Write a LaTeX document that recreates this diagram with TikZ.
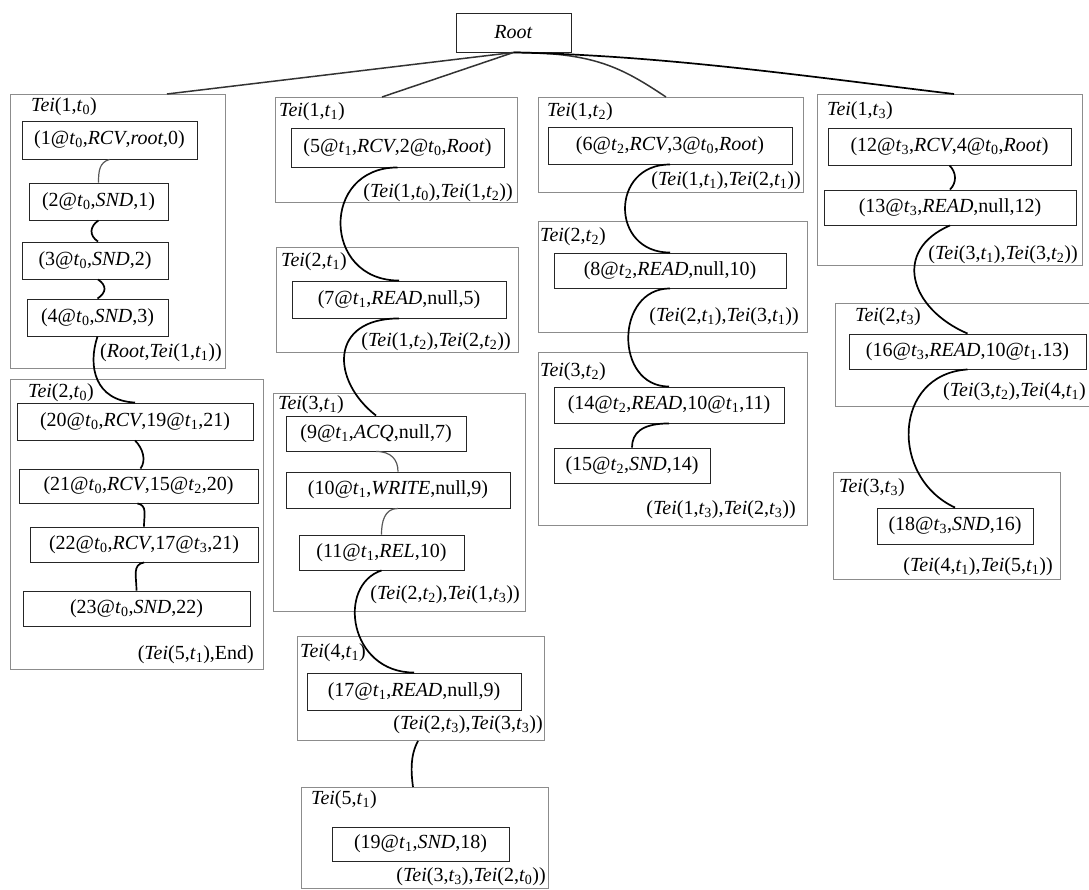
\documentclass[tikz,border=0pt]{standalone}
\usepackage{fontspec}
\setmainfont{Liberation Serif}
\newcommand\Tei{\textit{Tei}}
\newcommand\tvar[1]{\textit{t}\textsubscript{#1}}
\tikzset{
  grp/.style={draw=black!45, line width=0.9pt, inner sep=0pt, anchor=north west},
  ev/.style={draw=black!85, line width=0.9pt, inner sep=0pt},
  ttl/.style={anchor=west, inner sep=1pt},
  lbl/.style={anchor=east, inner sep=1pt},
  link/.style={line width=1.7pt},
  thin link/.style={line width=1.2pt, black!65},
  stem/.style={line width=1.5pt, black!80}
}
\begin{document}
\begin{tikzpicture}[x=1pt, y=-1pt, font=\fontsize{20}{24}\selectfont]
  \useasboundingbox (0,0) rectangle (1089,889);
  \node[ev, minimum width=115, minimum height=39] (root) at (513.5,32.5) {\textit{Root}};

  \node[grp, minimum width=215, minimum height=274] (g10) at (10,94) {};
  \node[grp, minimum width=253, minimum height=290] (g20) at (10,379) {};
  \node[grp, minimum width=242, minimum height=105] (g11) at (275,97) {};
  \node[grp, minimum width=242, minimum height=105] (g21) at (276,247) {};
  \node[grp, minimum width=252, minimum height=218] (g31) at (273,393) {};
  \node[grp, minimum width=247, minimum height=104] (g41) at (297,636) {};
  \node[grp, minimum width=247, minimum height=101] (g51) at (301,787) {};
  \node[grp, minimum width=265, minimum height=95] (g12) at (538,97) {};
  \node[grp, minimum width=269, minimum height=111] (g22) at (538,221) {};
  \node[grp, minimum width=269, minimum height=173] (g32) at (538,352) {};
  \node[grp, minimum width=265, minimum height=171] (g13) at (817,94) {};
  \node[grp, minimum width=260, minimum height=103] (g23) at (835,303) {};
  \node[grp, minimum width=227, minimum height=107] (g33) at (833,472) {};

  \node[ttl] (t10) at (30,107) {\Tei(1,\tvar{0})};
  \node[ttl] (t20) at (27,393) {\Tei(2,\tvar{0})};
  \node[ttl] (t11) at (278,112) {\Tei(1,\tvar{1})};
  \node[ttl] (t21) at (280,262) {\Tei(2,\tvar{1})};
  \node[ttl] (t31) at (277,405) {\Tei(3,\tvar{1})};
  \node[ttl] (t41) at (299,653) {\Tei(4,\tvar{1})};
  \node[ttl] (t51) at (310,800) {\Tei(5,\tvar{1})};
  \node[ttl] (t12) at (546,112) {\Tei(1,\tvar{2})};
  \node[ttl] (t22) at (539,237) {\Tei(2,\tvar{2})};
  \node[ttl] (t32) at (539,372) {\Tei(3,\tvar{2})};
  \node[ttl] (t13) at (826,111) {\Tei(1,\tvar{3})};
  \node[ttl] (t23) at (854,317) {\Tei(2,\tvar{3})};
  \node[ttl] (t33) at (838,488) {\Tei(3,\tvar{3})};

  \node[lbl] (l10) at (223,353) {(\textit{Root},\Tei(1,\tvar{1}))};
  \node[lbl] (l20) at (255,655) {(\Tei(5,\tvar{1}),End)};
  \node[lbl] (l11) at (514,193) {(\Tei(1,\tvar{0}),\Tei(1,\tvar{2}))};
  \node[lbl] (l21) at (512,342) {(\Tei(1,\tvar{2}),\Tei(2,\tvar{2}))};
  \node[lbl] (l31) at (521,595) {(\Tei(2,\tvar{2}),\Tei(1,\tvar{3}))};
  \node[lbl] (l41) at (544,725) {(\Tei(2,\tvar{3}),\Tei(3,\tvar{3}))};
  \node[lbl] (l51) at (547,877) {(\Tei(3,\tvar{3}),\Tei(2,\tvar{0}))};
  \node[lbl] (l12) at (802,181) {(\Tei(1,\tvar{1}),\Tei(2,\tvar{1}))};
  \node[lbl] (l22) at (800,317) {(\Tei(2,\tvar{1}),\Tei(3,\tvar{1}))};
  \node[lbl] (l32) at (797,510) {(\Tei(1,\tvar{3}),\Tei(2,\tvar{3}))};
  \node[lbl] (l13) at (1079,255) {(\Tei(3,\tvar{1}),\Tei(3,\tvar{2}))};
  \node[ttl] (l23) at (942,392) {(\Tei(3,\tvar{2}),\Tei(4,\tvar{1})};
  \node[lbl] (l33) at (1054,567) {(\Tei(4,\tvar{1}),\Tei(5,\tvar{1}))};

  \node[ev, minimum width=175, minimum height=38] (e1) at (109.5,140) {(1@\tvar{0},\textit{RCV},\textit{root},0)};
  \node[ev, minimum width=139, minimum height=37] (e2) at (98.5,201.5) {(2@\tvar{0},\textit{SND},1)};
  \node[ev, minimum width=146, minimum height=37] (e3) at (95,260.5) {(3@\tvar{0},\textit{SND},2)};
  \node[ev, minimum width=141, minimum height=37] (e4) at (97.5,317.5) {(4@\tvar{0},\textit{SND},3)};
  \node[ev, minimum width=236, minimum height=37] (e20) at (135,421.5) {(20@\tvar{0},\textit{RCV},19@\tvar{1},21)};
  \node[ev, minimum width=239, minimum height=34] (e21) at (138.5,486) {(21@\tvar{0},\textit{RCV},15@\tvar{2},20)};
  \node[ev, minimum width=228, minimum height=35] (e22) at (144,544.5) {(22@\tvar{0},\textit{RCV},17@\tvar{3},21)};
  \node[ev, minimum width=227, minimum height=35] (e23) at (136.5,608.5) {(23@\tvar{0},\textit{SND},22)};

  \node[ev, minimum width=213, minimum height=39] (e5) at (397.5,147.5) {(5@\tvar{1},\textit{RCV},2@\tvar{0},\textit{Root})};
  \node[ev, minimum width=214, minimum height=37] (e7) at (399,299.5) {(7@\tvar{1},\textit{READ},null,5)};
  \node[ev, minimum width=180, minimum height=35] (e9) at (376,433.5) {(9@\tvar{1},\textit{ACQ},null,7)};
  \node[ev, minimum width=224, minimum height=36] (e10) at (398,490) {(10@\tvar{1},\textit{WRITE},null,9)};
  \node[ev, minimum width=165, minimum height=35] (e11) at (381.5,552.5) {(11@\tvar{1},\textit{REL},10)};
  \node[ev, minimum width=214, minimum height=37] (e17) at (414,691.5) {(17@\tvar{1},\textit{READ},null,9)};
  \node[ev, minimum width=177, minimum height=34] (e19) at (420.5,844) {(19@\tvar{1},\textit{SND},18)};

  \node[ev, minimum width=244, minimum height=37] (e6) at (670,145.5) {(6@\tvar{2},\textit{RCV},3@\tvar{0},\textit{Root})};
  \node[ev, minimum width=232, minimum height=35] (e8) at (670,270.5) {(8@\tvar{2},\textit{READ},null,10)};
  \node[ev, minimum width=230, minimum height=36] (e14) at (669,405) {(14@\tvar{2},\textit{READ},10@\tvar{1},11)};
  \node[ev, minimum width=156, minimum height=35] (e15) at (632,465.5) {(15@\tvar{2},\textit{SND},14)};

  \node[ev, minimum width=243, minimum height=37] (e12) at (949.5,146.5) {(12@\tvar{3},\textit{RCV},4@\tvar{0},\textit{Root})};
  \node[ev, minimum width=252, minimum height=35] (e13) at (950,207.5) {(13@\tvar{3},\textit{READ},null,12)};
  \node[ev, minimum width=237, minimum height=35] (e16) at (967.5,351.5) {(16@\tvar{3},\textit{READ},10@\tvar{1}.13)};
  \node[ev, minimum width=156, minimum height=36] (e18) at (955,526) {(18@\tvar{3},\textit{SND},16)};

  \draw[stem] (root.south) -- ([xshift=157]g10.north west);
  \draw[stem] (root.south) -- ([xshift=107]g11.north west);
  \draw[stem] (root.south) .. controls +(80,0) and +(-45,-30) .. ([xshift=128]g12.north west);
  \draw[link] (root.south) .. controls +(150,3) and +(-150,-18) .. ([xshift=137]g13.north west);

  \draw[thin link] (e1.south) .. controls +(-10,3) and +(0,-12) .. (e2.north);
  \draw[link] (e2.south) .. controls +(-9,6) and +(-9,-6) .. ([xshift=3]e3.north);
  \draw[link] ([xshift=3]e3.south) .. controls +(9,6) and +(9,-6) .. (e4.north);
  \draw[link] (e4.south) .. controls +(-10,30) and +(-40,-2) .. (e20.north);
  \draw[link] (e20.south) .. controls +(8,8) and +(6,-8) .. ([xshift=2]e21.north);
  \draw[link] ([xshift=-1]e21.south) .. controls +(10,2) and +(0,-12) .. (e22.north);
  \draw[link] (e22.south) .. controls +(-12,2) and +(0,-14) .. (e23.north);

  \draw[link] (e5.south) .. controls +(-77,0) and +(-77,0) .. (e7.north);
  \draw[link] (e7.south) .. controls +(-70,0) and +(-45,-35) .. (e9.north);
  \draw[thin link] (e9.south) .. controls +(15,0) and +(0,-12) .. (e10.north);
  \draw[thin link] (e10.south) .. controls +(-14,0) and +(0,-12) .. (e11.north);
  \draw[link] (e11.south) .. controls +(-45,15) and +(-65,0) .. (e17.north);
  \draw[link] ([xshift=121]g41.south west) .. controls +(-8,15) and +(-2,-15) .. ([xshift=112]g51.north west);

  \draw[link] (e6.south) .. controls +(-60,0) and +(-60,0) .. (e8.north);
  \draw[link] (e8.south) .. controls +(-55,0) and +(-55,0) .. (e14.north);
  \draw[link] (e14.south) .. controls +(-28,0) and +(0,-14) .. (e15.north);

  \draw[link] (e12.south) .. controls +(7,7) and +(7,-7) .. (e13.north);
  \draw[link] (e13.south) .. controls +(-58,25) and +(-58,-25) .. (e16.north);
  \draw[link] (e16.south) .. controls +(-75,5) and +(-65,-30) .. (e18.north);
\end{tikzpicture}
\end{document}
